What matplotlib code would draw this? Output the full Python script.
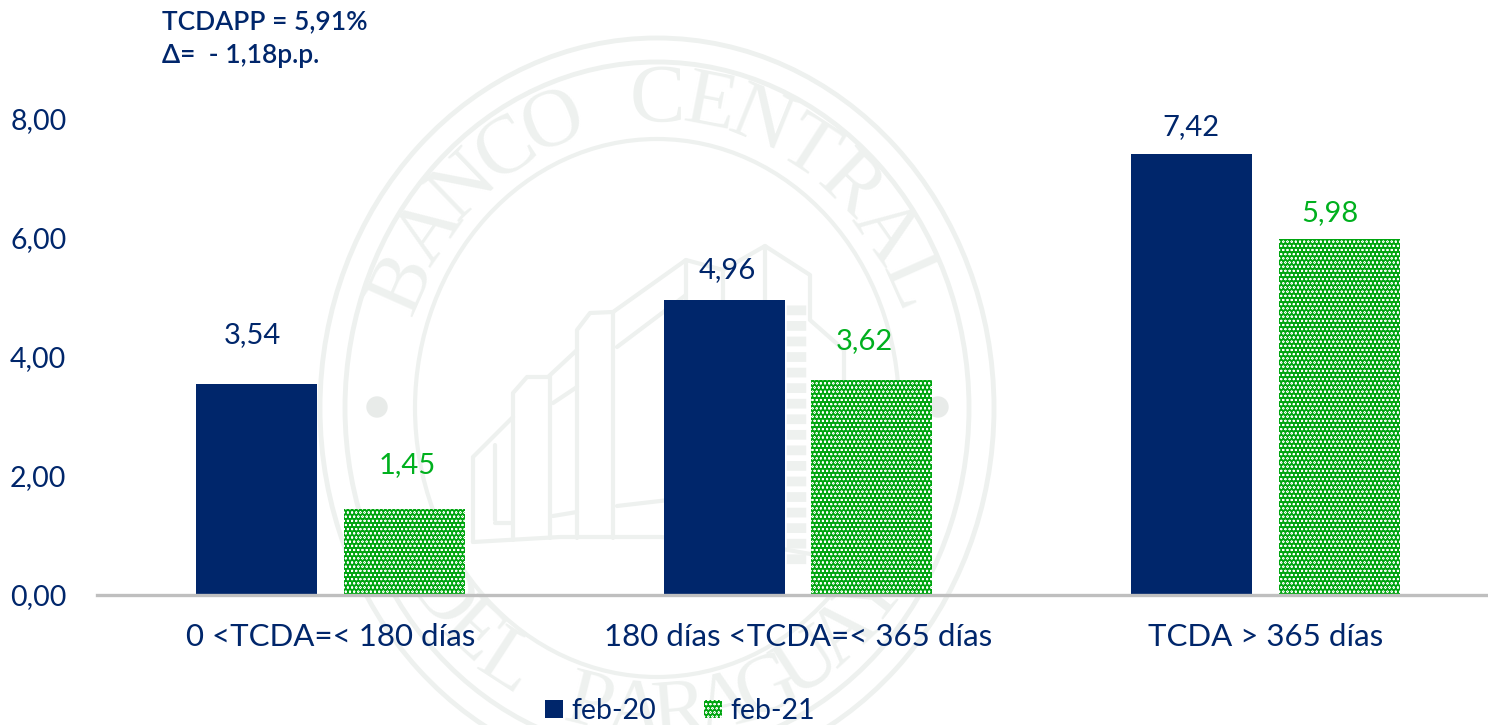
#!/usr/bin/env python3
import numpy as np
import matplotlib
matplotlib.use("Agg")
import matplotlib.pyplot as plt
from matplotlib.patches import Ellipse, Circle, Patch

plt.rcParams["font.family"] = ["Lato", "DejaVu Sans"]
plt.rcParams["hatch.linewidth"] = 0.4

categories = ["0 <TCDA=< 180 días", "180 días <TCDA=< 365 días", "TCDA > 365 días"]
feb20 = [3.54, 4.96, 7.42]
feb21 = [1.45, 3.62, 5.98]
series_names = ["feb-20", "feb-21"]
y_ticks = [0, 2, 4, 6, 8]

NAVY = "#00266b"
GREEN = "#00a510"
LABEL_GREEN = "#00b01e"
GREY = "#bfbfbf"
SEAL = "#eef1ef"
W, H = 1488, 725

fig = plt.figure(figsize=(W / 100, H / 100), dpi=100)

# watermark seal, in pixel coordinates
bg = fig.add_axes([0, 0, 1, 1], zorder=0)
bg.set_xlim(0, W)
bg.set_ylim(H, 0)
bg.axis("off")
cx, cy = 657, 408
for rx, ry, lw in [(337, 370, 3.5), (312, 346, 3.5), (242, 269, 3)]:
    bg.add_patch(Ellipse((cx, cy), 2 * rx, 2 * ry, fill=False, ec=SEAL, lw=lw))
bg.add_patch(Circle((377, 407), 10, color="#e8ebe9"))
bg.add_patch(Circle((938, 407), 10, color="#e8ebe9"))


def arc_text(text, start, end, rx, ry, flip=False):
    for ch, a in zip(text, np.linspace(start, end, len(text))):
        t = np.radians(a)
        x = cx + rx * np.sin(t)
        y = cy - ry * np.cos(t)
        rot = 180 - a if flip else -a
        bg.text(x, y, ch, rotation=rot, ha="center", va="center", fontsize=60,
                family="Liberation Serif", color=SEAL)


arc_text("BANCO CENTRAL", -66, 66, 277, 307)
arc_text("DEL PARAGUAY", 232, 128, 277, 307, flip=True)

# building outline
building = [
    [(473, 542), (473, 457), (513, 417), (513, 393), (527, 377), (548, 377), (577, 350), (577, 330),
     (590, 313), (613, 312), (686, 260), (723, 270), (765, 246), (810, 275), (810, 320), (844, 350), (844, 530)],
    [(473, 542), (560, 537), (660, 537), (760, 545), (844, 560)],
    [(495, 520), (495, 445)],
    [(495, 523), (513, 523)],
    [(513, 417), (513, 540)],
    [(550, 377), (550, 538)],
    [(577, 350), (577, 538)],
    [(613, 312), (613, 538)],
    [(553, 403), (577, 387)],
    [(617, 347), (686, 295)],
    [(553, 516), (577, 512)],
    [(617, 506), (686, 498)],
    [(686, 260), (686, 300)],
    [(723, 270), (723, 300)],
    [(765, 246), (765, 300)],
]
for line in building:
    xs, ys = zip(*line)
    bg.plot(xs, ys, color=SEAL, lw=3, solid_capstyle="round")
bg.plot([796, 796], [305, 565], color=SEAL, lw=14, ls=(0, (0.5, 0.3)))

# main chart
ax = fig.add_axes([97 / W, 1 - 595 / H, (W - 97) / W, (595 - 119) / H], zorder=1)
ax.patch.set_alpha(0)
x = np.arange(len(categories))
bar_w = 0.259
off = 0.158
ax.bar(x - off, feb20, bar_w, color=NAVY, lw=0)
ax.bar(x + off, feb21, bar_w, color=GREEN, edgecolor="white", hatch="oooo", lw=0)
ax.set_xlim(-0.4995, 2.476)
ax.set_ylim(0, 8)
for s in ["top", "left", "right"]:
    ax.spines[s].set_visible(False)
ax.spines["bottom"].set_color(GREY)
ax.spines["bottom"].set_linewidth(2.4)
ax.set_yticks(y_ticks)
ax.set_yticklabels([f"{v:.2f}".replace(".", ",") for v in y_ticks], fontsize=20.5, color=NAVY)
ax.set_xticks(x)
ax.set_xticklabels(categories, fontsize=22.5, color=NAVY)
ax.tick_params(axis="y", length=0, pad=22)
ax.tick_params(axis="x", length=0, pad=20)

# value labels sit at uneven places in the original (pixels from the bar top centre)
gaps20 = [49, 30, 26]
gaps21 = [44, 39, 26]
shift20 = [-4, 3.5, -0.5]
shift21 = [2.5, -7.5, -9.5]
for i in range(len(categories)):
    ax.annotate(f"{feb20[i]:.2f}".replace(".", ","), (x[i] - off, feb20[i]),
                xytext=(shift20[i] * 0.72, gaps20[i] * 0.72), textcoords="offset points",
                ha="center", va="center", fontsize=21, color=NAVY)
    ax.annotate(f"{feb21[i]:.2f}".replace(".", ","), (x[i] + off, feb21[i]),
                xytext=(shift21[i] * 0.72, gaps21[i] * 0.72), textcoords="offset points",
                ha="center", va="center", fontsize=21, color=LABEL_GREEN)

fig.text(162 / W, 1 - 22 / H, "TCDAPP = 5,91%", fontsize=19, color=NAVY, weight="semibold", va="center")
fig.text(162 / W, 1 - 55 / H, "Δ=  - 1,18p.p.", fontsize=19, color=NAVY, weight="semibold", va="center")

handles = [Patch(facecolor=NAVY, lw=0),
           Patch(facecolor=GREEN, edgecolor="white", hatch="oooo", lw=0)]
fig.legend(handles, series_names, loc="center", bbox_to_anchor=(680 / W, 1 - 711 / H), ncol=2, frameon=False,
           fontsize=20.5, labelcolor=NAVY, handlelength=0.62, handleheight=0.62, handletextpad=0.3,
           columnspacing=1.7, borderpad=0)

fig.savefig("out.png", dpi=100)
